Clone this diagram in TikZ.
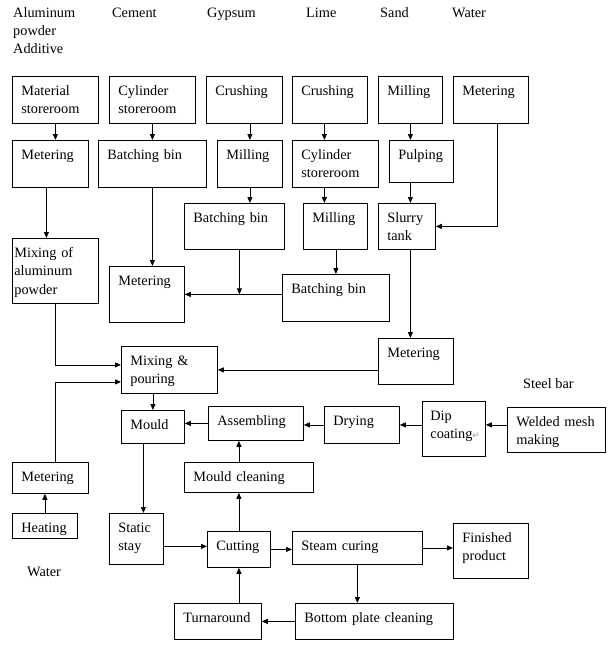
\documentclass[tikz,border=0pt]{standalone}
\usepackage{fontspec}
\setmainfont{Liberation Serif}
\newfontfamily\markfont{DejaVu Sans}
\usetikzlibrary{arrows.meta}
\hyphenpenalty=10000
\exhyphenpenalty=10000

\tikzset{
  box/.style 2 args={draw, line width=0.8pt, anchor=north west, align=left,
    inner xsep=9pt, inner ysep=0pt, text width=#1pt-18pt,
    text height=19pt, text depth=#2pt-19pt},
  lbl/.style={anchor=base west, inner sep=0pt},
  flow/.style={line width=0.8pt, -{Triangle[length=6pt,width=5pt]}}
}

\begin{document}
\begin{tikzpicture}[x=1pt, y=-1pt, font=\fontsize{14.3pt}{18.3pt}\selectfont]
    \useasboundingbox (0,0) rectangle (615,651);

    % Raw materials
    \node[lbl, text width=80pt, align=left] (tAl) at (13,17) {Aluminum\\powder\\Additive};
    \node[lbl] (tCem) at (112,17) {Cement};
    \node[lbl] (tGyp) at (207,17) {Gypsum};
    \node[lbl] (tLime) at (306,17) {Lime};
    \node[lbl] (tSand) at (380,17) {Sand};
    \node[lbl] (tWat) at (452,17) {Water};

    % First row
    \node[box={86}{47}] (matstore) at (12,76) {Material\\storeroom};
    \node[box={86}{47}] (cylA) at (109,76) {Cylinder\\storeroom};
    \node[box={76}{47}] (crushG) at (206,76) {Crushing};
    \node[box={75}{47}] (crushL) at (292,76) {Crushing};
    \node[box={64}{47}] (millS) at (378,76) {Milling};
    \node[box={75}{47}] (meterW) at (453,76) {Metering};

    % Second row
    \node[box={76}{47}] (meterA) at (12,140) {Metering};
    \node[box={108}{47}] (batchA) at (98,140) {Batching bin};
    \node[box={65}{47}] (millG) at (217,140) {Milling};
    \node[box={86}{47}] (cylL) at (292,140) {Cylinder\\storeroom};
    \node[box={64}{42}] (pulp) at (389,140) {Pulping};

    % Third row
    \node[box={100}{46}] (batchG) at (184,203) {Batching bin};
    \node[box={64}{46}] (millL) at (303,203) {Milling};
    \node[box={57}{46}] (slurry) at (378,203) {Slurry\\tank};
    \node[box={86}{65}, inner xsep=2pt, text width=82pt] (mixAl) at (12,238) {Mixing of\\aluminum\\powder};
    \node[box={75}{56}] (meterM) at (109,266) {Metering};
    \node[box={107}{47}] (batchL) at (282,274) {Batching bin};
    \node[box={75}{46}] (meterR) at (378,338) {Metering};
    \node[box={96}{47}] (mixP) at (121,346) {Mixing \&\\pouring};

    % Moulding line
    \node[box={63}{33}] (mould) at (121,410) {Mould};
    \node[box={95}{34}] (assem) at (208,406) {Assembling};
    \node[box={75}{37}] (drying) at (324,406) {Drying};
    \node[box={63}{55}, inner xsep=8pt, text width=47pt] (dip) at (422,401) {Dip\\\mbox{coating{\markfont\color{gray!80}\fontsize{9pt}{9pt}\selectfont ↵}}};
    \node[box={98}{45}] (weld) at (507,407) {Welded mesh\\making};
    \node[lbl] (steel) at (523,388) {Steel bar};
    \node[box={76}{31}] (meterLw) at (12,462) {Metering};
    \node[box={129}{30}] (mclean) at (184,462) {Mould cleaning};
    \node[box={65}{25}] (heat) at (12,513) {Heating};
    \node[lbl] (water) at (27,576) {Water};

    % Curing line
    \node[box={54}{51}] (static) at (109,513) {Static\\stay};
    \node[box={63}{36}] (cut) at (207,531) {Cutting};
    \node[box={130}{33}] (steam) at (292,531) {Steam curing};
    \node[box={75}{55}] (fin) at (453,523) {Finished\\product};
    \node[box={87}{36}] (turn) at (174,603) {Turnaround};
    \node[box={158}{36}] (bplate) at (295,603) {Bottom plate cleaning};

    % Connectors - upper part
    \coordinate (colL) at ([xshift=-5.5pt]crushL.south);
    \draw[flow] (matstore.south) -- (matstore.south |- meterA.north);
    \draw[flow] (cylA.south) -- (cylA.south |- batchA.north);
    \draw[flow] (millG.north |- crushG.south) -- (millG.north);
    \draw[flow] (colL) -- (colL |- cylL.north);
    \draw[flow] (millS.south) -- (millS.south |- pulp.north);
    \draw[flow] ([xshift=6.5pt]meterW.south) |- (slurry.east);
    \draw[flow] ([xshift=-4pt]meterA.south) -- ([xshift=-4pt]meterA.south |- mixAl.north);
    \draw[flow] (batchA.south) -- (batchA.south |- meterM.north);
    \draw[flow] (millG.south) -- (millG.south |- batchG.north);
    \draw[flow] (colL |- cylL.south) -- (colL |- millL.north);
    \draw[flow] (pulp.south -| millS.south) -- (slurry.north -| millS.south);
    \draw[flow] ([xshift=5pt]batchG.south) -- ([xshift=5pt]batchG.south |- meterM.east);
    \draw[flow] (millL.south -| batchL.north) -- (batchL.north);
    \draw[flow] (batchL.west |- meterM.east) -- (meterM.east);
    \draw[flow] (slurry.south -| millS.south) -- (meterR.north -| millS.south);
    \draw[flow] (meterR.west |- mixP.east) -- (mixP.east);
    \draw[flow] (mixAl.south) |- ([yshift=5pt]mixP.west);
    \draw[flow] ([xshift=5pt]meterLw.north) |- ([yshift=-12pt]mixP.west);

    % Connectors - lower part
    \draw[flow] (mixP.south -| mould.north) -- (mould.north);
    \draw[flow] (assem.west) -- (assem.west -| mould.east);
    \draw[flow] (drying.west) -- (drying.west -| assem.east);
    \draw[flow] (dip.west |- drying.west) -- (drying.east);
    \draw[flow] (weld.west |- drying.west) -- (dip.east |- drying.west);
    \draw[flow] (cut.north |- mclean.north) -- (cut.north |- assem.south);
    \draw[flow] (heat.north) -- (heat.north |- meterLw.south);
    \draw[flow] ([xshift=-9.5pt]mould.south) -- ([xshift=-9.5pt]mould.south |- static.north);
    \draw[flow] ([yshift=-7.5pt]static.east) -- ([yshift=-7.5pt]static.east -| cut.west);
    \draw[flow] (cut.east) -- (cut.east -| steam.west);
    \draw[flow] (cut.north) -- (cut.north |- mclean.south);
    \draw[flow] (steam.east) -- (steam.east -| fin.west);
    \draw[flow] (steam.south) -- (steam.south |- bplate.north);
    \draw[flow] (bplate.west) -- (bplate.west -| turn.east);
    \draw[flow] (turn.north -| cut.south) -- (cut.south);

  \end{tikzpicture}
\end{document}
